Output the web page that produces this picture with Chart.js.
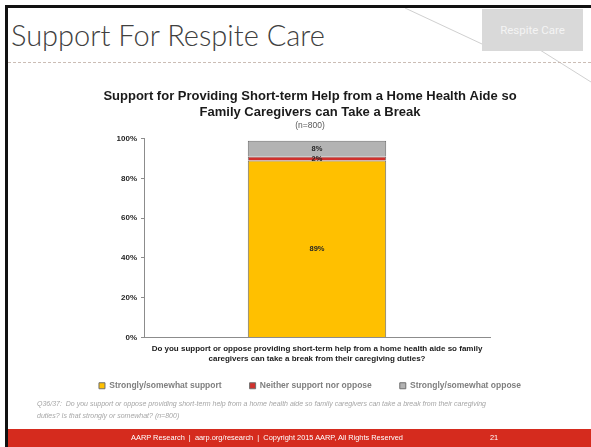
<!DOCTYPE html>
<html>
<head>
<meta charset="utf-8">
<script src="https://cdn.jsdelivr.net/npm/chart.js@4.4.1/dist/chart.umd.min.js"></script>
<style>
  html, body { margin: 0; padding: 0; background: #fff; }
  body { width: 591px; height: 447px; position: relative; overflow: hidden; font-family: "Liberation Sans", Arial, sans-serif; }
  .frameTop { position: absolute; left: 5px; top: 5px; width: 586px; height: 3px; background: #111; }
  .frameLeft { position: absolute; left: 5px; top: 5px; width: 3px; height: 442px; background: #111; }
  .slideTitle { position: absolute; left: 11px; top: 17px; font-family: Lato, sans-serif; font-weight: 300; font-size: 29px; color: #404040; white-space: nowrap; }
  .dash { position: absolute; left: 8px; top: 62px; width: 583px; border-top: 1px dashed #cbbdb5; }
  .tag { position: absolute; left: 482px; top: 9px; width: 101px; height: 42px; background: #d9d9d9; color: #f4f4f4; font-size: 11.5px; line-height: 42px; text-align: center; font-family: Roboto, sans-serif; }
  #chartBox { position: absolute; left: 60px; top: 80px; width: 500px; height: 320px; }
  .note { position: absolute; left: 37px; top: 398px; width: 470px; font-size: 7px; line-height: 12px; font-style: italic; color: #a6a6a6; }
  .footer { position: absolute; left: 8px; top: 429px; width: 583px; height: 18px; background: #d52b1e; color: #fff; font-size: 7.4px; line-height: 18px; }
  .footer .mid { position: absolute; left: 0; width: 518px; text-align: center; }
  .footer .num { position: absolute; left: 482px; }
  svg.deco { position: absolute; left: 0; top: 0; }
</style>
</head>
<body>
<svg class="deco" width="591" height="100">
  <line x1="405" y1="8" x2="482" y2="44" stroke="#d0d0d0" stroke-width="1"/>
  <line x1="540" y1="50" x2="591" y2="82" stroke="#d0d0d0" stroke-width="1"/>
</svg>
<div class="frameTop"></div>
<div class="frameLeft"></div>
<div class="slideTitle">Support For Respite Care</div>
<div class="dash"></div>
<div class="tag">Respite Care</div>
<div id="chartBox"><canvas id="respiteChart"></canvas></div>
<div class="note">Q36/37:&nbsp; Do you support or oppose providing short-term help from a home health aide so family caregivers can take a break from their caregiving duties? Is that strongly or somewhat? (n=800)</div>
<div class="footer"><span class="mid">AARP Research&nbsp; |&nbsp; aarp.org/research&nbsp; |&nbsp; Copyright 2015 AARP, All Rights Reserved</span><span class="num">21</span></div>

<script>
// Dados do gráfico
const categories = [''];
const seriesNames = ['Strongly/somewhat support', 'Neither support nor oppose', 'Strongly/somewhat oppose'];
const supportValues = [89];
const neitherValues = [2];
const opposeValues = [8];
const yTicks = [0, 20, 40, 60, 80, 100];

const chartFont = '"Liberation Sans", Arial, sans-serif';

// Rótulos de valor dentro das barras
const barLabels = {
    id: 'barLabels',
    afterDatasetsDraw(chart) {
        const ctx = chart.ctx;
        ctx.save();
        ctx.font = 'bold 7.5px ' + chartFont;
        ctx.fillStyle = '#262626';
        ctx.textAlign = 'center';
        ctx.textBaseline = 'middle';
        chart.data.datasets.forEach((ds, i) => {
            const meta = chart.getDatasetMeta(i);
            meta.data.forEach((bar, j) => {
                const y = (bar.y + bar.base) / 2;
                ctx.fillText(ds.data[j] + '%', bar.x, y);
            });
        });
        ctx.restore();
    }
};

const ctx = document.getElementById('respiteChart').getContext('2d');

new Chart(ctx, {
    type: 'bar',
    data: {
        labels: categories,
        datasets: [
            { label: seriesNames[0], data: supportValues, backgroundColor: '#ffc000', borderColor: '#6f6f6f', borderWidth: 1 },
            { label: seriesNames[1], data: neitherValues, backgroundColor: '#d0312d', borderColor: '#6f6f6f', borderWidth: 1 },
            { label: seriesNames[2], data: opposeValues, backgroundColor: '#b3b3b3', borderColor: '#6f6f6f', borderWidth: 1 }
        ]
    },
    plugins: [barLabels],
    options: {
        responsive: true,
        maintainAspectRatio: false,
        animation: false,
        datasets: { bar: { categoryPercentage: 1, barPercentage: 0.4 } },
        layout: { padding: 0 },
        plugins: {
            title: {
                display: true,
                text: ['Support for Providing Short-term Help from a Home Health Aide so', 'Family Caregivers can Take a Break'],
                color: '#1a1a1a',
                font: { family: chartFont, size: 13, weight: 'bold', lineHeight: 1.25 },
                padding: { top: 8, bottom: 0 }
            },
            subtitle: {
                display: true,
                text: '(n=800)',
                color: '#595959',
                font: { family: chartFont, size: 8.5, lineHeight: 1.2 },
                padding: { top: 0, bottom: 8 }
            },
            legend: {
                position: 'bottom',
                labels: {
                    boxWidth: 6,
                    boxHeight: 6,
                    padding: 28,
                    color: '#7f7f7f',
                    font: { family: chartFont, size: 8.5, weight: 'bold' }
                }
            },
            tooltip: { enabled: false }
        },
        scales: {
            x: {
                stacked: true,
                grid: { display: false, drawTicks: false },
                border: { color: '#8c8c8c' },
                ticks: { display: false },
                title: {
                    display: true,
                    text: ['Do you support or oppose providing short-term help from a home health aide so family', 'caregivers can take a break from their caregiving duties?'],
                    color: '#1a1a1a',
                    font: { family: chartFont, size: 8, weight: 'bold', lineHeight: 1.25 },
                    padding: { top: 6, bottom: -10 }
                }
            },
            y: {
                stacked: true,
                min: 0,
                max: 100,
                afterBuildTicks: s => { s.ticks = yTicks.map(v => ({ value: v })); },
                afterFit: s => { s.width = 84; },
                grid: { drawOnChartArea: false, drawTicks: true, tickLength: 3, color: '#8c8c8c' },
                border: { color: '#8c8c8c' },
                ticks: {
                    padding: 4,
                    color: '#262626',
                    font: { family: chartFont, size: 8, weight: 'bold' },
                    callback: v => v + '%'
                }
            },
            yRight: {
                position: 'right',
                display: true,
                afterFit: s => { s.width = 70; },
                grid: { display: false },
                border: { display: false },
                ticks: { display: false }
            }
        }
    }
});
</script>
</body>
</html>
